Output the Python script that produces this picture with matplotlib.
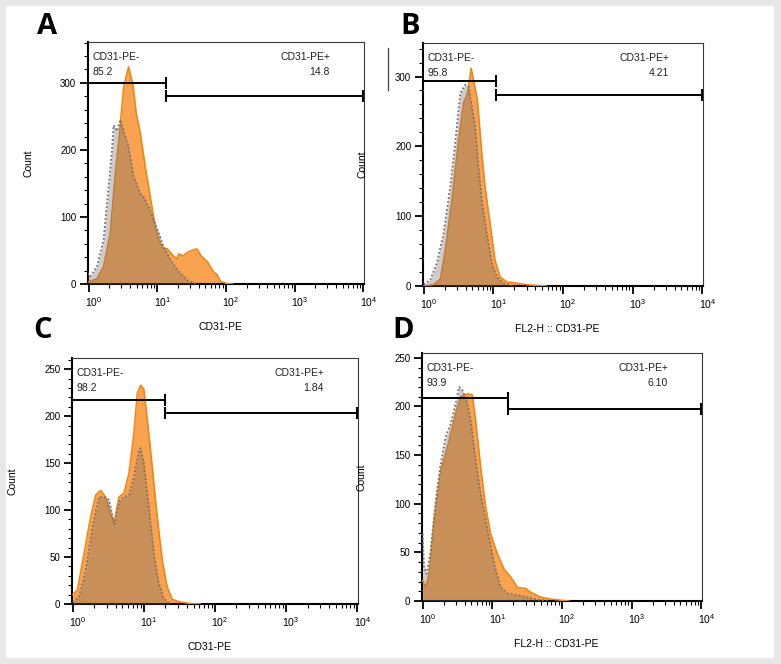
import matplotlib.pyplot as plt
import numpy as np
import matplotlib.transforms as mtransforms
from matplotlib.patches import Rectangle
from matplotlib.lines import Line2D
from matplotlib.ticker import FixedLocator, MultipleLocator, NullFormatter

plt.rcParams['font.family'] = ['Liberation Sans', 'DejaVu Sans']
plt.rcParams['mathtext.fontset'] = 'custom'
plt.rcParams['mathtext.rm'] = 'Liberation Sans'
plt.rcParams['mathtext.it'] = 'Liberation Sans:italic'

# x values are in decades (log10 of the CD31-PE channel), y values are counts
# A
a_pe_dec = [-0.01, 0.12, 0.216, 0.314, 0.387, 0.45, 0.508, 0.581, 0.645, 0.693, 0.752, 0.825,
            0.898, 0.971, 1.04, 1.09, 1.14, 1.24, 1.29, 1.31, 1.38, 1.43, 1.55, 1.58, 1.63,
            1.73, 1.82, 1.87, 1.92, 2.02, 2.1]
a_pe_cnt = [3, 8, 26, 76, 165, 225, 294, 324, 297, 255, 225, 175,
            130, 85, 61, 53, 53, 41, 38, 45, 42, 47, 52, 52, 43,
            33, 18, 14, 4, 0.5, 0]
a_ctl_dec = [-0.01, 0.022, 0.12, 0.217, 0.29, 0.339, 0.363, 0.41, 0.46, 0.518, 0.58, 0.655,
             0.752, 0.8, 0.875, 0.947, 1.02, 1.09, 1.19, 1.29, 1.43, 1.58]
a_ctl_cnt = [16, 11, 26, 66, 145, 200, 237, 228, 245, 225, 205, 160,
             135, 130, 115, 96, 76, 56, 36, 21, 6, 0]

# B
b_pe_dec = [0.0, 0.143, 0.239, 0.31, 0.405, 0.5, 0.571, 0.629, 0.681, 0.724, 0.771, 0.834,
            0.881, 0.953, 1.024, 1.096, 1.19, 1.334, 1.524, 1.763]
b_pe_cnt = [0, 2, 10, 52, 123, 209, 262, 276, 312, 291, 267, 190,
            142, 90, 37, 13, 6, 4, 1.4, 0]
b_ctl_dec = [0.0, 0.096, 0.19, 0.286, 0.381, 0.453, 0.524, 0.596, 0.643, 0.738, 0.786, 0.834,
             0.905, 0.977, 1.049, 1.143, 1.286]
b_ctl_cnt = [2, 9, 33, 76, 142, 205, 276, 288, 286, 228, 171, 123,
             76, 33, 13, 4, 0]

# C
c_pe_dec = [0.0, 0.066, 0.159, 0.252, 0.323, 0.393, 0.463, 0.533, 0.58, 0.65, 0.72, 0.79,
            0.86, 0.907, 0.954, 1.0, 1.05, 1.118, 1.188, 1.258, 1.328, 1.4, 1.515, 1.655, 1.795]
c_pe_cnt = [10, 15, 54, 93, 116, 121, 114, 96, 86, 114, 118, 139,
            182, 224, 233, 229, 196, 146, 93, 47, 18, 5, 2, 0.5, 0]
c_ctl_dec = [0.0, 0.09, 0.183, 0.276, 0.369, 0.44, 0.51, 0.556, 0.589, 0.65, 0.72, 0.79,
             0.86, 0.93, 0.954, 1.0, 1.07, 1.14, 1.21, 1.28, 1.374]
c_ctl_cnt = [2, 8, 36, 82, 114, 114, 111, 95, 84, 109, 114, 116,
             135, 164, 166, 150, 103, 54, 22, 6, 0]

# D
d_pe_dec = [0.0, 0.043, 0.091, 0.163, 0.258, 0.354, 0.45, 0.498, 0.545, 0.641, 0.713, 0.76,
            0.832, 0.904, 0.976, 1.07, 1.166, 1.26, 1.36, 1.478, 1.55, 1.693, 1.837, 2.03, 2.1]
d_pe_cnt = [21, 14, 28, 83, 134, 158, 186, 200, 210, 213, 212, 186,
            138, 97, 69, 49, 33, 25, 14, 13, 9, 4, 2, 0.4, 0]
d_ctl_dec = [0.0, 0.019, 0.057, 0.115, 0.187, 0.258, 0.33, 0.402, 0.473, 0.521, 0.569, 0.631,
             0.689, 0.76, 0.832, 0.904, 0.976, 1.047, 1.119, 1.215, 1.36, 1.502, 1.646, 1.79]
d_ctl_cnt = [69, 35, 28, 52, 104, 141, 169, 182, 203, 220, 217, 206,
             186, 145, 110, 83, 56, 32, 14, 8, 6, 4, 1.5, 0]

# gates: boundary (CD31-PE value), height of the "-" gate, height of the "+" gate
gate_edge = [13.5, 11.0, 20.0, 16.6]
gate_neg_y = [300, 294, 217, 209]
gate_pos_y = [280, 274, 203, 197]
pct_neg = ['85.2', '95.8', '98.2', '93.9']
pct_pos = ['14.8', '4.21', '1.84', '6.10']

letters = ['A', 'B', 'C', 'D']
x_titles = ['CD31-PE', 'FL2-H :: CD31-PE', 'CD31-PE', 'FL2-H :: CD31-PE']
y_top = [361, 348, 262, 255]
y_major = [100, 100, 50, 50]
y_minor = [20, 20, 10, 10]

stained = [(a_pe_dec, a_pe_cnt), (b_pe_dec, b_pe_cnt), (c_pe_dec, c_pe_cnt), (d_pe_dec, d_pe_cnt)]
control = [(a_ctl_dec, a_ctl_cnt), (b_ctl_dec, b_ctl_cnt), (c_ctl_dec, c_ctl_cnt), (d_ctl_dec, d_ctl_cnt)]

W, H = 781, 664
fig = plt.figure(figsize=(W / 100, H / 100), dpi=100)
fig.patch.set_facecolor('#e8e8e8')
fig.add_artist(Rectangle((6 / W, 6 / H), 768 / W, 652 / H, transform=fig.transFigure,
                         facecolor='white', edgecolor='none', zorder=-10))
# leftover edge line seen between panels A and B
fig.add_artist(Line2D([388 / W, 388 / W], [1 - 48 / H, 1 - 90 / H], transform=fig.transFigure,
                      color='#444444', lw=0.9))

# axes boxes in pixels: left, top, right, bottom
boxes = [(88, 42, 364, 284), (423, 43, 703, 286), (72, 358, 358, 604), (422, 353, 702, 601)]
letter_pos = [(47, 27), (410, 27), (43, 330), (403, 330)]

orange_fill = '#f9a24f'
orange_line = '#ef8410'
grey_fill = '#6e6e6e'
grey_line = '#737373'
xmin, xmax = 10 ** -0.01, 10 ** 4.01

for i in range(4):
    l, t, r, b = boxes[i]
    ax = fig.add_axes([l / W, 1 - b / H, (r - l) / W, (b - t) / H])
    ax.set_facecolor('white')

    px = np.power(10.0, stained[i][0])
    py = np.array(stained[i][1])
    cx = np.power(10.0, control[i][0])
    cy = np.array(control[i][1])

    ax.fill_between(px, py, 0, color=orange_fill, lw=0, zorder=2)
    ax.plot(px, py, color=orange_line, lw=1.1, zorder=3)
    ax.fill_between(cx, cy, 0, color=grey_fill, alpha=0.35, lw=0, zorder=4)
    ax.plot(cx, cy, color=grey_line, lw=1.3, ls=(0, (1, 1.2)), zorder=5)

    # gates
    ge = gate_edge[i]
    ax.plot([xmin, ge], [gate_neg_y[i]] * 2, color='black', lw=1.4, zorder=6)
    ax.plot([ge], [gate_neg_y[i]], marker='|', ms=8, mew=1.5, color='black', zorder=6)
    ax.plot([ge, 1e4], [gate_pos_y[i]] * 2, color='black', lw=1.4, zorder=6,
            marker='|', ms=8, mew=1.5)

    ax.annotate('CD31-PE-', xy=(0, 1), xycoords='axes fraction', xytext=(3, -11),
                textcoords='offset points', ha='left', va='center', fontsize=7.5, color='#222222')
    ax.annotate(pct_neg[i], xy=(0, 1), xycoords='axes fraction', xytext=(3, -21.5),
                textcoords='offset points', ha='left', va='center', fontsize=7.5, color='#222222')
    ax.annotate('CD31-PE+', xy=(1, 1), xycoords='axes fraction', xytext=(-24.5, -11),
                textcoords='offset points', ha='right', va='center', fontsize=7.5, color='#222222')
    ax.annotate(pct_pos[i], xy=(1, 1), xycoords='axes fraction', xytext=(-24.5, -21.5),
                textcoords='offset points', ha='right', va='center', fontsize=7.5, color='#222222')

    ax.set_xscale('log')
    ax.set_xlim(xmin, xmax)
    ax.set_ylim(0, y_top[i])
    ax.xaxis.set_major_locator(FixedLocator([1, 10, 100, 1000, 10000]))
    ax.xaxis.set_minor_locator(FixedLocator([m * 10 ** d for d in range(4) for m in range(2, 10)]))
    ax.xaxis.set_minor_formatter(NullFormatter())
    ax.set_xticklabels([r'$10^{0}$', r'$10^{1}$', r'$10^{2}$', r'$10^{3}$', r'$10^{4}$'])
    ax.yaxis.set_major_locator(MultipleLocator(y_major[i]))
    ax.yaxis.set_minor_locator(MultipleLocator(y_minor[i]))

    ax.tick_params(which='major', direction='out', length=5.5, width=1.3, labelsize=7, pad=3)
    ax.tick_params(axis='x', which='major', labelsize=7.5, pad=2.5)
    ax.tick_params(which='minor', direction='out', length=2.8, width=0.8)
    shift = mtransforms.ScaledTranslation(5 / 100, 0, fig.dpi_scale_trans)
    for lab in ax.get_xticklabels():
        lab.set_transform(lab.get_transform() + shift)

    for side in ['left', 'bottom']:
        ax.spines[side].set_linewidth(1.5)
        ax.spines[side].set_color('black')
    for side in ['top', 'right']:
        ax.spines[side].set_linewidth(0.8)
        ax.spines[side].set_color('#3a3a3a')

    ax.set_xlabel(x_titles[i], fontsize=7.5)
    ax.xaxis.set_label_coords(0.48, -38 / (b - t))
    ax.set_ylabel('Count', fontsize=7.5)
    ax.yaxis.set_label_coords(-55 / (r - l), 0.5)

    lx, ly = letter_pos[i]
    fig.text(lx / W, 1 - ly / H, letters[i], fontsize=21, fontweight='bold', family='Open Sans',
             ha='center', va='center')

fig.savefig('out.png', dpi=100, facecolor=fig.get_facecolor())
